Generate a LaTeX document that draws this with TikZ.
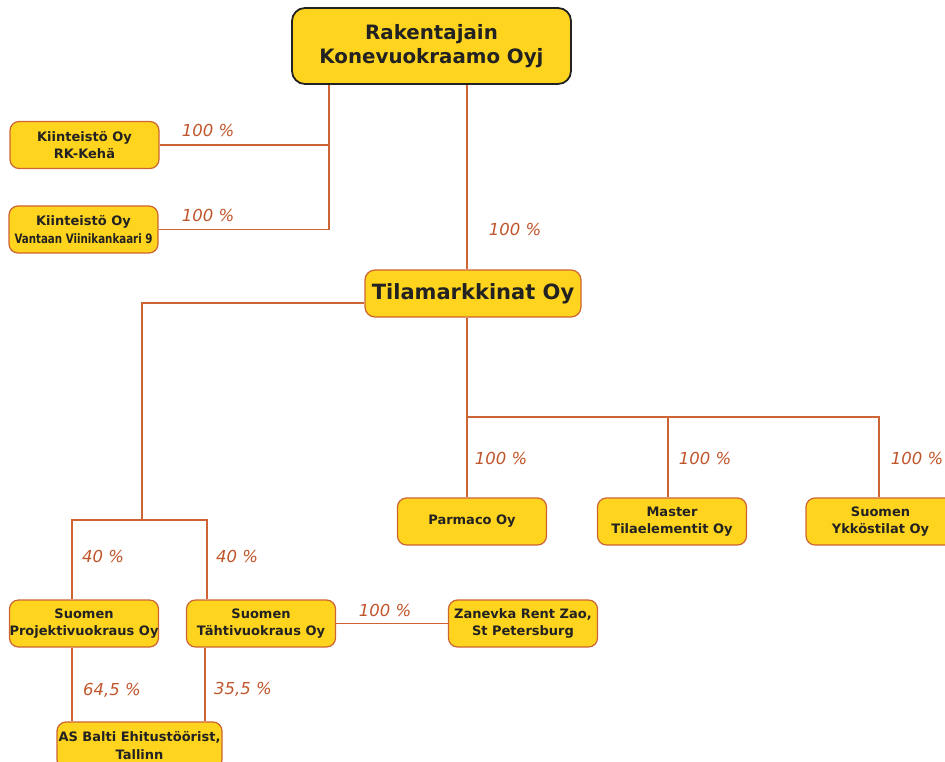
\documentclass[tikz,border=0pt]{standalone}
\usepackage{fontspec}
\setmainfont{DejaVu Sans}
\usetikzlibrary{positioning}
\definecolor{boxfill}{HTML}{FFD41E}
\definecolor{linkcol}{HTML}{CC6433}
\definecolor{pctcol}{HTML}{C0552B}
\definecolor{textcol}{HTML}{222222}

\begin{document}
\begin{tikzpicture}[x=1pt,y=-1pt,
    box/.style={draw=linkcol, fill=boxfill, rounded corners=9pt, line width=1.2pt,
      minimum width=149pt, minimum height=47pt, inner sep=0pt, align=center,
      text=textcol, font=\fontsize{13}{17.5}\selectfont\bfseries},
    bigbox/.style={box, draw=textcol, line width=1.8pt, rounded corners=13pt,
      font=\fontsize{19.8}{24}\selectfont\bfseries},
    link/.style={draw=linkcol, line width=1.3pt},
    pct/.style={text=pctcol, inner sep=0pt, font=\fontsize{16.5}{18}\selectfont\itshape}]

\useasboundingbox (0,0) rectangle (945,762);

% companies
\node[bigbox, minimum width=279pt, minimum height=76pt] (top) at (431.5,46) {Rakentajain\\Konevuokraamo Oyj};
\node[box] (rk) at (84.5,145) {Kiinteistö Oy\\RK-Kehä};
\node[box] (vantaa) at (83.5,229.5) {Kiinteistö Oy\\\scalebox{0.79}[1]{Vantaan Viinikankaari 9}};
\node[bigbox, draw=linkcol, line width=1.2pt, rounded corners=10pt, minimum width=216pt, minimum height=47pt,
  font=\fontsize{21}{24}\selectfont\bfseries] (tila) at (473,293.5) {Tilamarkkinat Oy};
\node[box] (parmaco) at (472,521.5) {Parmaco Oy};
\node[box] (master) at (672,521.5) {Master\\Tilaelementit Oy};
\node[box] (ykko) at (880.5,521.5) {Suomen\\Ykköstilat Oy};
\node[box] (projekti) at (84,623.5) {Suomen\\Projektivuokraus Oy};
\node[box] (tahti) at (261,623.5) {Suomen\\Tähtivuokraus Oy};
\node[box] (zanevka) at (523,623.5) {Zanevka Rent Zao,\\St Petersburg};
\node[box, minimum width=165pt] (balti) at (139.5,745.5) {AS Balti Ehitustöörist,\\Tallinn};

% junctions
\coordinate (kj) at (329,230);
\coordinate (tj) at (467,417);
\coordinate (lj) at (142,520);
\coordinate (pa) at (72,0);
\coordinate (ta) at (207,0);
\coordinate (tb) at (205,0);
\coordinate (ma) at (668,0);
\coordinate (ya) at (879,0);

% ownership lines
\draw[link] (top.south -| kj) |- (vantaa.east);
\draw[link] (rk.east) -- (rk.east -| kj);
\draw[link] (top.south -| tj) -- (tila.north -| tj);
\draw[link] (tila.south -| tj) -- (tj) -- (tj -| ya) -- (ykko.north -| ya);
\draw[link] (tj) -- (parmaco.north -| tj);
\draw[link] (tj -| ma) -- (master.north -| ma);
\draw[link] ([yshift=-9.5pt]tila.west) -| (lj);
\draw[link] (projekti.north -| pa) -- (lj -| pa) -- (lj -| ta) -- (tahti.north -| ta);
\draw[link] (tahti.east) -- (zanevka.west);
\draw[link] (projekti.south -| pa) -- (balti.north -| pa);
\draw[link] (tahti.south -| tb) -- (balti.north -| tb);

% shares
\node[pct] (p1) at (208,130) {100 \%};
\node[pct] (p2) at (208,215) {100 \%};
\node[pct] (p3) at (515,229) {100 \%};
\node[pct] (p4) at (501,458) {100 \%};
\node[pct] (p5) at (705,458) {100 \%};
\node[pct] (p6) at (917,458) {100 \%};
\node[pct] (p7) at (385,610) {100 \%};
\node[pct] (p8) at (103,556) {40 \%};
\node[pct] (p9) at (237,556) {40 \%};
\node[pct] (p10) at (112,690) {64,5 \%};
\node[pct] (p11) at (243,689) {35,5 \%};
\end{tikzpicture}
\end{document}
